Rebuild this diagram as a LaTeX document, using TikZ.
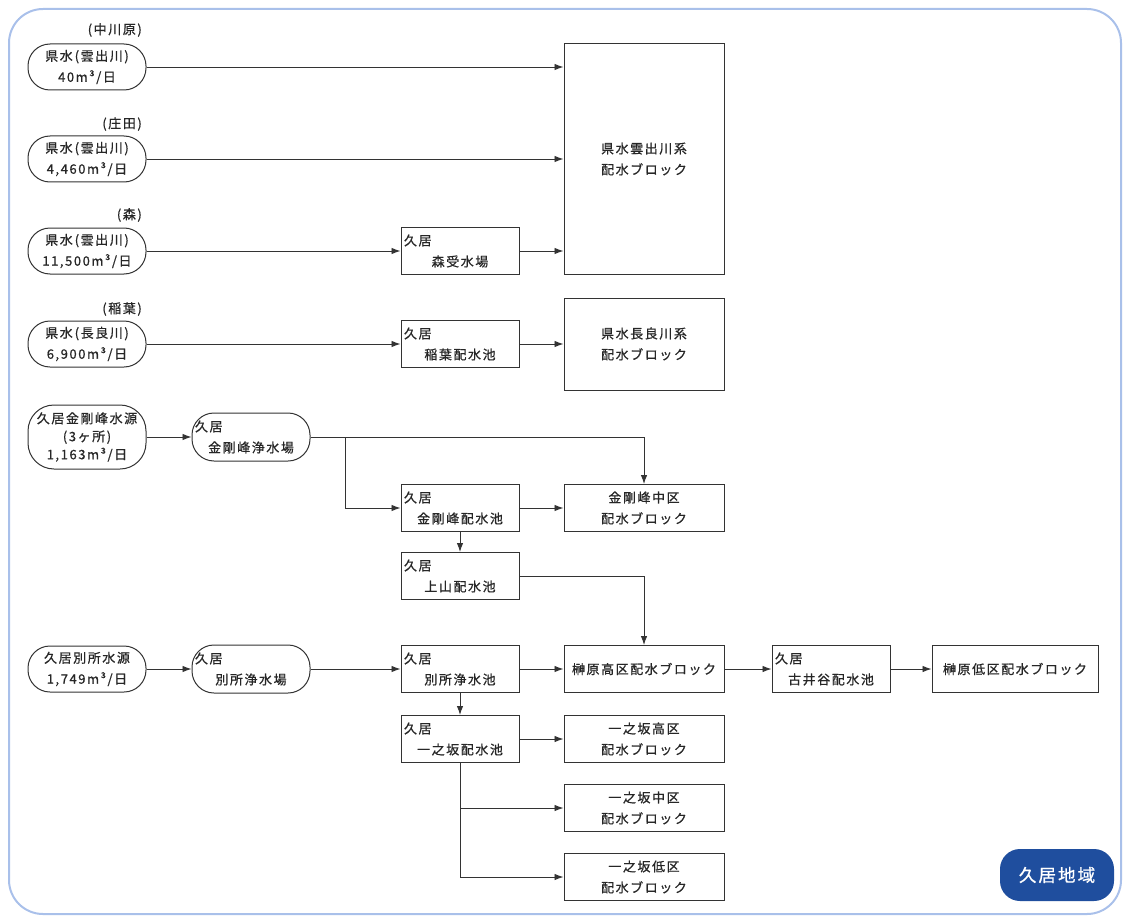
\documentclass[tikz,border=0pt]{standalone}
\usepackage{fontspec}
\setmainfont{Noto Sans CJK JP}
\newfontfamily\jp[LetterSpace=12,FakeBold=0.8]{Noto Sans CJK JP}
\usetikzlibrary{arrows.meta}
\definecolor{framec}{HTML}{A9C0EA}
\definecolor{badgec}{HTML}{1F4E9E}
\definecolor{linec}{HTML}{333333}
\newcommand{\kuiline}[2]{\makebox[#1][l]{久居}\\#2}
\newcommand{\lp}{\hspace{0.15em}(}
\tikzset{
  every node/.style={font=\jp\fontsize{13}{21}\selectfont, text=black!85},
  src/.style={draw=linec, line width=1pt, rounded corners=22pt, minimum width=118pt, minimum height=46pt, align=center, inner sep=1pt},
  plant/.style={draw=linec, line width=1pt, rounded corners=22pt, minimum width=118pt, minimum height=48pt, align=center, text width=112pt, inner sep=3pt},
  box/.style={draw=linec, line width=1pt, minimum width=118pt, minimum height=47pt, align=center, text width=112pt, inner sep=3pt},
  blk/.style={draw=linec, line width=1pt, minimum width=160pt, minimum height=47pt, align=center, inner sep=2pt},
  lbl/.style={anchor=east, inner sep=0pt},
  arr/.style={draw=linec, line width=0.9pt, -{Latex[length=9pt,width=6.5pt]}}
}
\begin{document}
\begin{tikzpicture}[x=1pt,y=-1pt]
\useasboundingbox (0,0) rectangle (1134,920);
\draw[framec, line width=2pt, rounded corners=34pt] (9,9) rectangle (1121,914);

% sources
\node[src] (s1) at (87,67) {県水\lp 雲出川)\\40m³/日};
\node[lbl] (l1) at (142,30) {(中川原)};
\node[src] (s2) at (87,159) {県水\lp 雲出川)\\4,460m³/日};
\node[lbl] (l2) at (142,124) {(庄田)};
\node[src] (s3) at (87,251) {県水\lp 雲出川)\\11,500m³/日};
\node[lbl] (l3) at (142,215) {(森)};
\node[src] (s4) at (87,344) {県水\lp 長良川)\\6,900m³/日};
\node[lbl] (l4) at (142,309) {(稲葉)};
\node[src, minimum height=64pt, rounded corners=26pt, font=\jp\fontsize{13}{18}\selectfont] (s5) at (87,437) {久居金剛峰水源\\(3ヶ所)\\1,163m³/日};
\node[src] (s6) at (87,669) {久居別所水源\\1,749m³/日};

% plants
\node[plant] (p1) at (251,437) {\kuiline{112pt}{金剛峰浄水場}};
\node[plant] (p2) at (251,669) {\kuiline{112pt}{別所浄水場}};

% middle boxes
\node[box] (m1) at (460,251) {\kuiline{112pt}{森受水場}};
\node[box] (m2) at (460,344) {\kuiline{112pt}{稲葉配水池}};
\node[box] (m3) at (460,508) {\kuiline{112pt}{金剛峰配水池}};
\node[box] (m4) at (460,576) {\kuiline{112pt}{上山配水池}};
\node[box] (m5) at (460,669) {\kuiline{112pt}{別所浄水池}};
\node[box] (m6) at (460,739) {\kuiline{112pt}{一之坂配水池}};

% blocks
\node[blk, minimum height=230pt] (b1) at (644,159) {県水雲出川系\\配水ブロック};
\node[blk, minimum height=92pt] (b2) at (644,344) {県水長良川系\\配水ブロック};
\node[blk] (b3) at (644,508) {金剛峰中区\\配水ブロック};
\node[blk] (b4) at (644,669) {榊原高区配水ブロック};
\node[blk] (b5) at (644,739) {一之坂高区\\配水ブロック};
\node[blk] (b6) at (644,808) {一之坂中区\\配水ブロック};
\node[blk] (b7) at (644,877) {一之坂低区\\配水ブロック};

\node[box] (f1) at (831,669) {\kuiline{112pt}{古井谷配水池}};
\node[blk, minimum width=166pt] (f2) at (1015,669) {榊原低区配水ブロック};

% badge
\node[fill=badgec, rounded corners=20pt, minimum width=114pt, minimum height=52pt, text=white, font=\jp\fontsize{17.5}{20}\selectfont] (badge) at (1057,875) {久居地域};

% connectors
\draw[arr] (s1.east) -- (s1.east -| b1.west);
\draw[arr] (s2.east) -- (s2.east -| b1.west);
\draw[arr] (s3.east) -- (m1.west);
\draw[arr] (m1.east) -- (m1.east -| b1.west);
\draw[arr] (s4.east) -- (m2.west);
\draw[arr] (m2.east) -- (b2.west);
\draw[arr] (s5.east) -- (p1.west);
\draw[arr] (p1.east) -| (b3.north);
\coordinate (br1) at (345,437);
\draw[arr] (br1) |- (m3.west);
\draw[arr] (m3.east) -- (b3.west);
\draw[arr] (m3.south) -- (m4.north);
\draw[arr] (m4.east) -| (b4.north);
\draw[arr] (s6.east) -- (p2.west);
\draw[arr] (p2.east) -- (m5.west);
\draw[arr] (m5.east) -- (b4.west);
\draw[arr] (b4.east) -- (f1.west);
\draw[arr] (f1.east) -- (f2.west);
\draw[arr] (m5.south) -- (m6.north);
\draw[arr] (m6.east) -- (b5.west);
\draw[arr] (m6.south) |- (b6.west);
\draw[arr] (m6.south) |- (b7.west);
\end{tikzpicture}
\end{document}
